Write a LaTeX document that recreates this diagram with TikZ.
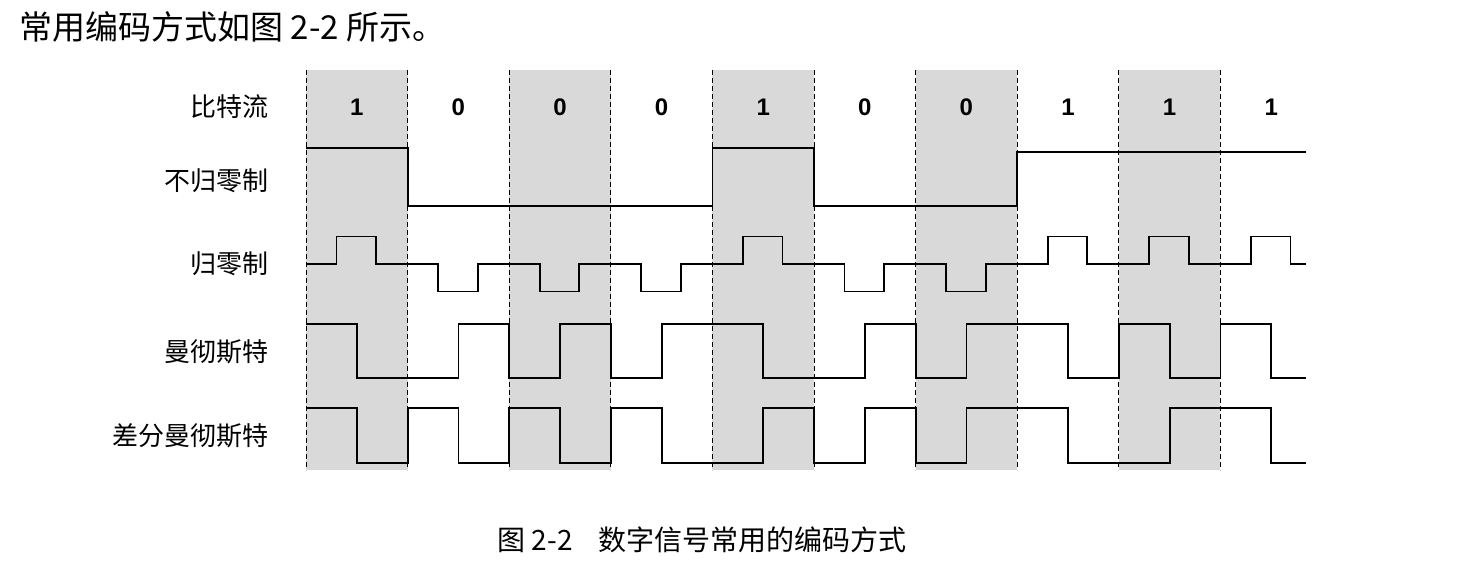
\documentclass[tikz,border=0pt]{standalone}
\usepackage{fontspec}
\setmainfont{Liberation Serif}
\newfontfamily\cjk{Noto Sans CJK SC}
\newfontfamily\digf{Liberation Sans}
\begin{document}
\begin{tikzpicture}[x=1pt,y=-1pt,
  wave/.style={line width=1.8pt,black},
  lab/.style={anchor=east,font=\cjk\fontsize{26}{26}\selectfont},
  bit/.style={font=\digf\bfseries\fontsize{24}{24}\selectfont},
  sep/.style={dash pattern=on 5pt off 3pt,line width=1pt}]
\useasboundingbox (0,0) rectangle (1482,574);
\foreach \i in {0,2,4,6,8}{
  \fill[gray!30] ({306+101.6*\i},70) rectangle ({306+101.6*(\i+1)},470);}
\foreach \i in {0,...,9}{
  \draw[sep] ({306+101.6*\i},70) -- ({306+101.6*\i},470);}
\draw[sep] (1220.4,70) -- (1220.4,470);
\foreach \b [count=\i from 0] in {1,0,0,0,1,0,0,1,1,1}{
  \node[bit] (b\i) at ({356.8+101.6*\i},107) {\b};}
\node[anchor=west,font=\cjk\fontsize{33}{33}\selectfont] (top) at (16,27) {常用编码方式如图 2-2 所示。};
\node[lab] (l1) at (272,107) {比特流};
\node[lab] (l2) at (272,181) {不归零制};
\node[lab] (l3) at (272,264) {归零制};
\node[lab] (l4) at (272,352) {曼彻斯特};
\node[lab] (l5) at (272,436) {差分曼彻斯特};
\node[font=\cjk\fontsize{28}{28}\selectfont] (cap) at (702,540) {图 2-2\hspace{26pt}数字信号常用的编码方式};
% NRZ
\draw[wave] (306,148) -- (407.6,148) -- (407.6,206) -- (712.4,206) -- (712.4,148) -- (814,148) -- (814,206) -- (1017.2,206) -- (1017.2,152) -- (1306,152);
% RZ
\draw[wave] (306,264)
 \foreach \b [count=\i from 0] in {1,0,0,0,1,0,0,1,1,1}{
   -- ({306+101.6*\i+30.5},264) -- ({306+101.6*\i+30.5},{264+(1-2*\b)*27.5})
   -- ({306+101.6*\i+70},{264+(1-2*\b)*27.5}) -- ({306+101.6*\i+70},264)}
 -- (1306,264);
% Manchester
\def\H{324}\def\L{378}
\draw[wave] (306,\H) -- (356.8,\H) -- (356.8,\L) -- (458.4,\L) -- (458.4,\H) -- (509.2,\H) -- (509.2,\L) -- (560,\L) -- (560,\H) -- (610.8,\H) -- (610.8,\L) -- (661.6,\L) -- (661.6,\H) -- (763.2,\H) -- (763.2,\L) -- (864.8,\L) -- (864.8,\H) -- (915.6,\H) -- (915.6,\L) -- (966.4,\L) -- (966.4,\H) -- (1068,\H) -- (1068,\L) -- (1118.8,\L) -- (1118.8,\H) -- (1169.6,\H) -- (1169.6,\L) -- (1220.4,\L) -- (1220.4,\H) -- (1271.2,\H) -- (1271.2,\L) -- (1306,\L);
% Differential Manchester
\def\H{408}\def\L{463}
\draw[wave] (306,\H) -- (356.8,\H) -- (356.8,\L) -- (407.6,\L) -- (407.6,\H) -- (458.4,\H) -- (458.4,\L) -- (509.2,\L) -- (509.2,\H) -- (560,\H) -- (560,\L) -- (610.8,\L) -- (610.8,\H) -- (661.6,\H) -- (661.6,\L) -- (763.2,\L) -- (763.2,\H) -- (814,\H) -- (814,\L) -- (864.8,\L) -- (864.8,\H) -- (915.6,\H) -- (915.6,\L) -- (966.4,\L) -- (966.4,\H) -- (1068,\H) -- (1068,\L) -- (1169.6,\L) -- (1169.6,\H) -- (1271.2,\H) -- (1271.2,\L) -- (1306,\L);
\end{tikzpicture}
\end{document}
